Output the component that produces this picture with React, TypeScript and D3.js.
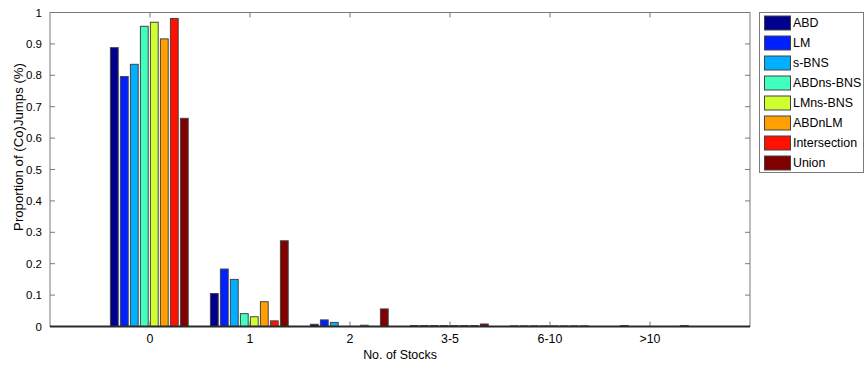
import React from "react";
import * as d3 from "d3";

const categories = ["0", "1", "2", "3-5", "6-10", ">10"];
const seriesNames = ["ABD", "LM", "s-BNS", "ABDns-BNS", "LMns-BNS", "ABDnLM", "Intersection", "Union"];
const seriesColors = ["#00008f", "#0020ff", "#00afff", "#40ffbf", "#cfff30", "#ffa000", "#ff1000", "#800000"];

const abd = [0.888, 0.105, 0.007, 0.003, 0.002, 0];
const lm = [0.796, 0.183, 0.021, 0.003, 0.002, 0.003];
const sBns = [0.835, 0.15, 0.013, 0.003, 0.002, 0];
const abdNsBns = [0.956, 0.041, 0, 0.003, 0.002, 0];
const lmNsBns = [0.969, 0.031, 0, 0.003, 0.002, 0];
const abdNLm = [0.916, 0.079, 0.004, 0.003, 0.002, 0];
const intersection = [0.981, 0.018, 0, 0.003, 0.002, 0];
const union = [0.663, 0.273, 0.056, 0.008, 0.002, 0.003];

const seriesValues = [abd, lm, sBns, abdNsBns, lmNsBns, abdNLm, intersection, union];
const yTicks = [0, 0.1, 0.2, 0.3, 0.4, 0.5, 0.6, 0.7, 0.8, 0.9, 1];
const yTickLabels = ["0", "0.1", "0.2", "0.3", "0.4", "0.5", "0.6", "0.7", "0.8", "0.9", "1"];

const W = 865;
const H = 369;
const L = 50, R = 750, T = 12.5, B = 326.5;
const FONT = "'Liberation Sans', Arial, sans-serif";

export default function App() {
  const x = d3.scaleLinear().domain([-1, categories.length]).range([L, R]);
  const y = d3.scaleLinear().domain([0, 1]).range([B, T]);
  const step = x(0.1) - x(0);
  const barW = step * 0.78;
  const nS = seriesNames.length;

  const bars: React.ReactNode[] = [];
  seriesValues.forEach((vals, si) => {
    vals.forEach((v, ci) => {
      if (v <= 0) return;
      const cx = x(ci + (si - (nS - 1) / 2) * 0.1) - 0.7;
      bars.push(
        <rect
          key={`${si}-${ci}`}
          x={cx - barW / 2}
          y={y(v)}
          width={barW}
          height={Math.max(0, y(0) - y(v))}
          fill={seriesColors[si]}
          stroke="#444"
          strokeWidth={1}
        />
      );
    });
  });

  return (
    <svg
      width={W}
      height={H}
      style={{ position: "absolute", left: 0, top: 0, background: "#fff" }}
      fontFamily={FONT}
    >
      <rect x={0} y={0} width={W} height={H} fill="#fff" />
      {/* box */}
      <rect x={L} y={T} width={R - L} height={B - T} fill="none" stroke="#7a7a7a" strokeWidth={1} />
      {/* y ticks */}
      {yTicks.map((t, i) => (
        <g key={`yt${i}`}>
          <line x1={L} x2={L + 5} y1={y(t)} y2={y(t)} stroke="#7a7a7a" />
          <line x1={R} x2={R - 5} y1={y(t)} y2={y(t)} stroke="#7a7a7a" />
          <text x={L - 8} y={y(t)} dy="0.35em" textAnchor="end" fontSize={11.5} fill="#000">
            {yTickLabels[i]}
          </text>
        </g>
      ))}
      {/* x ticks */}
      {categories.map((c, i) => (
        <g key={`xt${i}`}>
          <line x1={x(i)} x2={x(i)} y1={B} y2={B - 5} stroke="#7a7a7a" />
          <line x1={x(i)} x2={x(i)} y1={T} y2={T + 5} stroke="#7a7a7a" />
          <text x={x(i)} y={B + 16} textAnchor="middle" fontSize={12.4} fill="#000">
            {c}
          </text>
        </g>
      ))}
      {bars}
      {/* baseline */}
      <line x1={L} x2={R} y1={B} y2={B} stroke="#2a2a2a" strokeWidth={2} />
      {/* axis labels */}
      <text x={400} y={359} textAnchor="middle" fontSize={12.4} fill="#000">
        No. of Stocks
      </text>
      <text
        transform={`translate(23,147) rotate(-90)`}
        textAnchor="middle"
        fontSize={13.2}
        fill="#000"
      >
        Proportion of (Co)Jumps (%)
      </text>
      {/* legend */}
      <rect x={759.5} y={12.5} width={104} height={160} fill="#fff" stroke="#7a7a7a" />
      {seriesNames.map((n, i) => {
        const cy = 23 + i * 20;
        return (
          <g key={`lg${i}`}>
            <rect x={764.5} y={cy - 7} width={26} height={14} fill={seriesColors[i]} stroke="#444" />
            <text x={793} y={cy} dy="0.35em" fontSize={12.4} fill="#000">
              {n}
            </text>
          </g>
        );
      })}
    </svg>
  );
}
